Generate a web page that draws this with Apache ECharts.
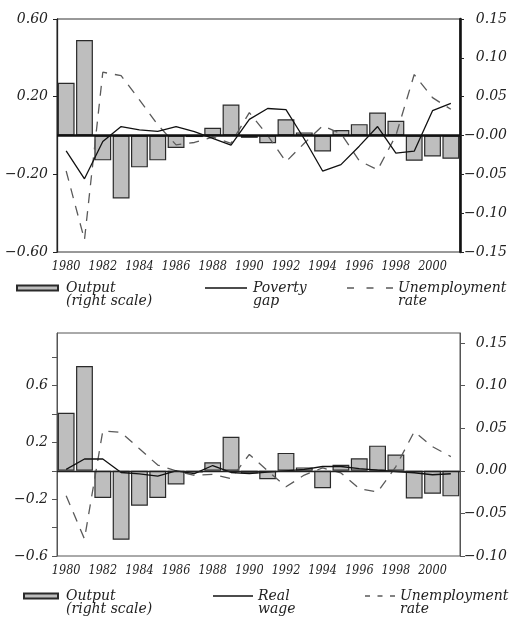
<!DOCTYPE html>
<html><head><meta charset="utf-8">
<script src="https://cdn.jsdelivr.net/npm/echarts@6/dist/echarts.min.js"></script>
<style>html,body{margin:0;padding:0;background:#fff}#c{width:517px;height:622px}</style>
</head><body><div id="c"></div>
<script>
const years = ['1980','1981','1982','1983','1984','1985','1986','1987','1988','1989','1990',
  '1991','1992','1993','1994','1995','1996','1997','1998','1999','2000','2001'];
// Output (right scale), same in both panels
const output = [0.068, 0.123, -0.032, -0.081, -0.041, -0.032, -0.016, -0.002, 0.010, 0.040, -0.003,
  -0.010, 0.021, 0.004, -0.0205, 0.007, 0.0146, 0.0295, 0.019, -0.0325, -0.027, -0.030];
// Top panel (left scale)
const povertyGap = [-0.079, -0.223, -0.031, 0.046, 0.029, 0.021, 0.046, 0.020, -0.015, -0.050, 0.083,
  0.139, 0.133, -0.018, -0.183, -0.150, -0.055, 0.046, -0.091, -0.081, 0.128, 0.165];
const unempTop = [-0.183, -0.537, 0.326, 0.308, 0.184, 0.055, -0.048, -0.036, -0.008, -0.040, 0.118,
  0.000, -0.135, -0.040, 0.050, 0.010, -0.130, -0.177, 0.000, 0.314, 0.195, 0.135];
// Bottom panel (left scale)
const realWage = [0.010, 0.083, 0.083, -0.012, -0.022, -0.038, 0.000, -0.020, 0.037, -0.012, -0.020,
  -0.010, 0.000, 0.010, 0.030, 0.030, 0.015, 0.004, -0.005, -0.014, -0.028, -0.021];
const unempBottom = [-0.176, -0.480, 0.280, 0.270, 0.155, 0.040, 0.000, -0.033, -0.025, -0.055, 0.115,
  0.000, -0.113, -0.030, 0.020, -0.015, -0.125, -0.150, 0.030, 0.275, 0.170, 0.100];
// Tick values
const topLeftTicks = [-0.6, -0.2, 0.2, 0.6];
const topRightTicks = [-0.15, -0.10, -0.05, 0, 0.05, 0.10, 0.15];
const botLeftTicks = [-0.6, -0.4, -0.2, 0, 0.2, 0.4, 0.6, 0.8];
const botLeftLabels = [-0.6, -0.2, 0.2, 0.6];
const botRightTicks = [-0.10, -0.05, 0, 0.05, 0.10, 0.15];

// leading empty line keeps the first text line level with the legend icon
const legendText = {
  'Output (right scale)': '\nOutput\n(right scale)',
  'Poverty gap': '\nPoverty\ngap',
  'Real wage': '\nReal\nwage',
  'Unemployment rate': '\nUnemployment\nrate'
};

const serif = "'DejaVu Serif', serif";
const fmt = (v, d) => (v < -1e-9 ? '\u2212' : '') + Math.abs(v).toFixed(d);

const xLabel = {interval: 1, margin: 8, fontFamily: "'DejaVu Serif Condensed', 'DejaVu Serif', serif",
  fontStyle: 'italic', fontSize: 12.5, color: '#222'};
const yLabelBase = {fontFamily: serif, fontStyle: 'italic', fontSize: 14, color: '#222'};

const barStyle = {color: '#bebebe', borderColor: '#2a2a2a', borderWidth: 1.2};
const solidStyle = {color: '#111', width: 1.3, type: 'solid'};
const dashStyle = {color: '#5a5a5a', width: 1.3, type: [10, 8]};

function legendItem(name, left, top, w, h, padLeft, extra) {
  return Object.assign({
    data: [name], left: left, top: top, orient: 'horizontal', padding: 0,
    itemWidth: w, itemHeight: h, selectedMode: false, symbolKeepAspect: false,
    formatter: n => legendText[n] || n,
    textStyle: {fontFamily: serif, fontStyle: 'italic', fontSize: 14, color: '#222',
      lineHeight: 13, padding: [0, 0, 0, padLeft]}
  }, extra || {});
}
const dash3Top = 'path://M0,0h7v1h-7zM19.5,0h7v1h-7zM39,0h7v1h-7z';
const dash3Bot = 'path://M0,0h5v1h-5zM12.5,0h5v1h-5zM25,0h5v1h-5z';

const chart = echarts.init(document.getElementById('c'), null, {renderer: 'canvas'});
chart.setOption({
  animation: false,
  backgroundColor: '#fff',
  grid: [
    {left: 57, right: 57, top: 19, height: 233, show: true, borderColor: '#333', borderWidth: 1},
    {left: 57, right: 57, top: 333, height: 223, show: true, borderColor: '#555', borderWidth: 1}
  ],
  legend: [
    legendItem('Output (right scale)', 16, 268, 41, 5, 3, {icon: 'rect'}),
    legendItem('Poverty gap', 205, 268, 42, 1.3, 1, {icon: 'rect'}),
    legendItem('Unemployment rate', 347, 268, 46, 1.3, 0, {icon: dash3Top}),
    legendItem('Output (right scale)', 23, 576, 34, 5, 3, {icon: 'rect'}),
    legendItem('Real wage', 213, 576, 40, 1.3, 0, {icon: 'rect'}),
    legendItem('Unemployment rate', 365, 576, 30, 1.3, 0, {icon: dash3Bot})
  ],
  xAxis: [
    {type: 'category', gridIndex: 0, data: years, boundaryGap: true,
      axisLine: {show: false}, axisTick: {show: false}, axisLabel: xLabel, splitLine: {show: false}},
    {type: 'category', gridIndex: 1, data: years, boundaryGap: true,
      axisLine: {show: false}, axisTick: {show: false}, axisLabel: xLabel, splitLine: {show: false}}
  ],
  yAxis: [
    {type: 'value', gridIndex: 0, position: 'left', min: -0.6, max: 0.6, interval: 0.2,
      axisLine: {show: true, lineStyle: {color: '#222', width: 1.3}},
      axisTick: {show: true, length: 4, lineStyle: {color: '#222'}, customValues: topLeftTicks},
      axisLabel: Object.assign({margin: 9, customValues: topLeftTicks,
        formatter: v => topLeftTicks.some(t => Math.abs(t - v) < 1e-6) ? fmt(v, 2) : ''}, yLabelBase),
      splitLine: {show: false}},
    {type: 'value', gridIndex: 0, position: 'right', min: -0.15, max: 0.15, interval: 0.05,
      axisLine: {show: true, lineStyle: {color: '#111', width: 2.6}},
      axisTick: {show: true, length: 4, lineStyle: {color: '#222'}, customValues: topRightTicks},
      axisLabel: Object.assign({margin: 47, align: 'right', customValues: topRightTicks,
        formatter: v => Math.abs(v) < 1e-9 ? '\u22120.00' : fmt(v, 2)}, yLabelBase),
      splitLine: {show: false}},
    {type: 'value', gridIndex: 1, position: 'left', min: -0.6, max: 0.97, interval: 0.2,
      axisLine: {show: true, lineStyle: {color: '#555', width: 1}},
      axisTick: {show: true, length: 5, lineStyle: {color: '#555'}, customValues: botLeftTicks},
      axisLabel: Object.assign({margin: 9, customValues: botLeftLabels,
        formatter: v => botLeftLabels.some(t => Math.abs(t - v) < 1e-6) ? fmt(v, 1) : ''}, yLabelBase),
      splitLine: {show: false}},
    {type: 'value', gridIndex: 1, position: 'right', min: -0.10, max: 0.1617, interval: 0.05,
      axisLine: {show: true, lineStyle: {color: '#555', width: 1}},
      axisTick: {show: true, length: 5, lineStyle: {color: '#555'}, customValues: botRightTicks},
      axisLabel: Object.assign({margin: 47, align: 'right', customValues: botRightTicks,
        formatter: v => botRightTicks.some(t => Math.abs(t - v) < 1e-6) ? fmt(v, 2) : ''}, yLabelBase),
      splitLine: {show: false}}
  ],
  series: [
    {name: 'Output (right scale)', type: 'bar', xAxisIndex: 0, yAxisIndex: 1, data: output,
      barCategoryGap: '8%', itemStyle: barStyle,
      markLine: {silent: true, symbol: ['none', 'none'], label: {show: false},
        lineStyle: {color: '#111', width: 2.6, type: 'solid'}, data: [{yAxis: 0}]}},
    {name: 'Poverty gap', type: 'line', xAxisIndex: 0, yAxisIndex: 0, data: povertyGap,
      symbol: 'none', lineStyle: solidStyle, itemStyle: {color: '#111'}, z: 4},
    {name: 'Unemployment rate', type: 'line', xAxisIndex: 0, yAxisIndex: 0, data: unempTop,
      symbol: 'none', lineStyle: dashStyle, itemStyle: {color: '#5a5a5a'}, z: 3},
    {name: 'Output (right scale)', type: 'bar', xAxisIndex: 1, yAxisIndex: 3, data: output,
      barCategoryGap: '8%', itemStyle: barStyle,
      markLine: {silent: true, symbol: ['none', 'none'], label: {show: false},
        lineStyle: {color: '#222', width: 1.4, type: 'solid'}, data: [{yAxis: 0}]}},
    {name: 'Real wage', type: 'line', xAxisIndex: 1, yAxisIndex: 2, data: realWage,
      symbol: 'none', lineStyle: solidStyle, itemStyle: {color: '#111'}, z: 4},
    {name: 'Unemployment rate', type: 'line', xAxisIndex: 1, yAxisIndex: 2, data: unempBottom,
      symbol: 'none', lineStyle: dashStyle, itemStyle: {color: '#5a5a5a'}, z: 3}
  ]
});
</script>
</body></html>
